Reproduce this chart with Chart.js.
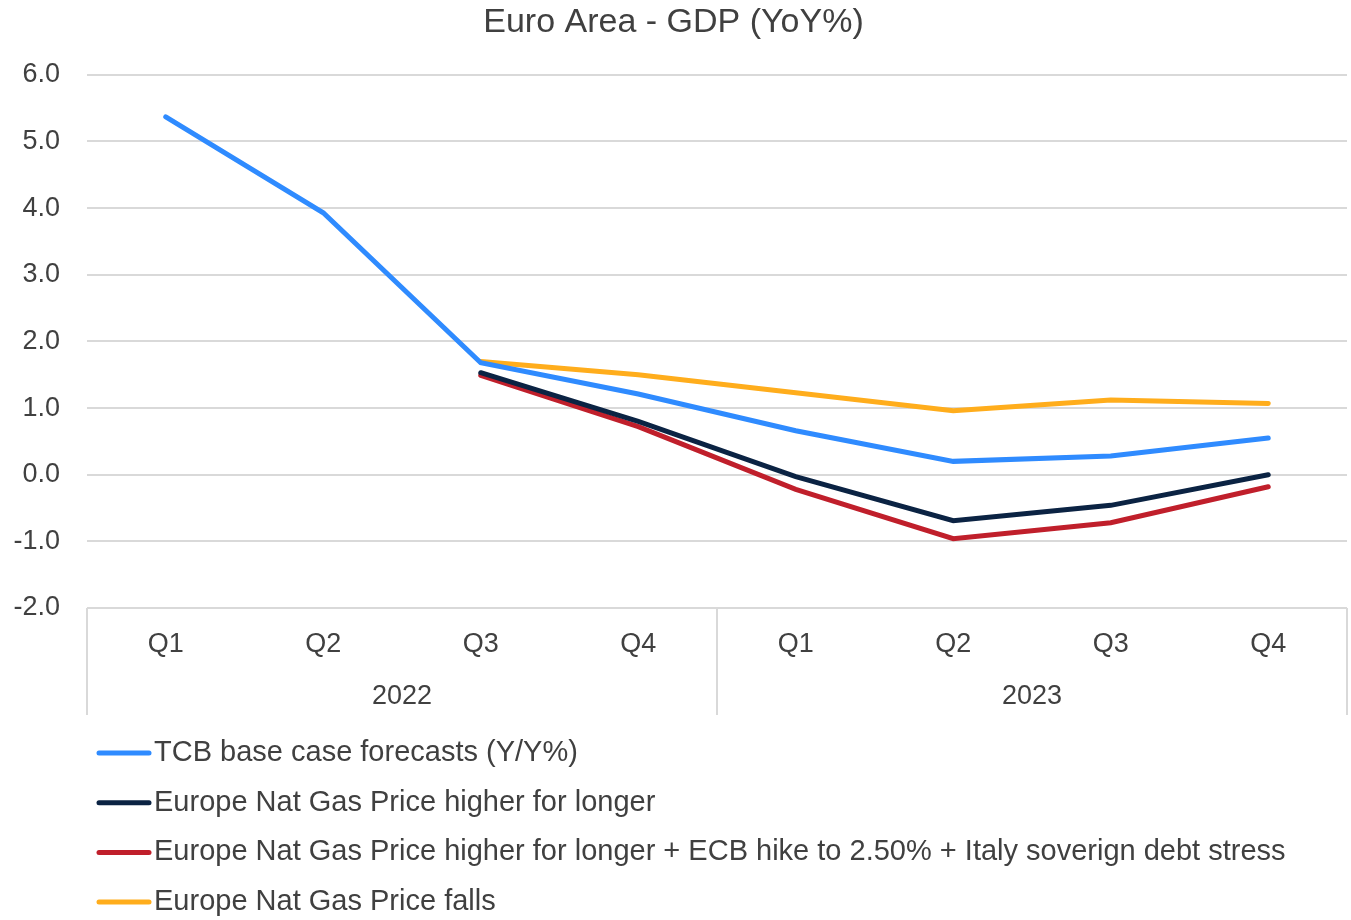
<!DOCTYPE html>
<html>
<head>
<meta charset="utf-8">
<script src="https://cdn.jsdelivr.net/npm/chart.js@4"></script>
<style>
  body { margin: 0; background: #fff; }
  #wrap { width: 1351px; height: 920px; }
</style>
</head>
<body>
<div id="wrap"><canvas id="line-chart"></canvas></div>
<script>
const quarters = ["Q1", "Q2", "Q3", "Q4", "Q1", "Q2", "Q3", "Q4"];
const years = ["2022", "2023"];

const tcbBase = [5.37, 3.93, 1.68, 1.21, 0.66, 0.2, 0.28, 0.55];
const gasHigher = [null, null, 1.53, 0.8, -0.03, -0.69, -0.46, 0.0];
const gasHigherEcb = [null, null, 1.49, 0.72, -0.22, -0.96, -0.72, -0.18];
const gasFalls = [null, null, 1.7, 1.5, 1.23, 0.96, 1.12, 1.07];

const yTicks = [-2, -1, 0, 1, 2, 3, 4, 5, 6];

const textColor = "#404040";
const fontFam = "'Liberation Sans', Arial, sans-serif";

// year row + separators under the quarter labels
const yearAxis = {
  id: "yearAxis",
  afterDraw(chart) {
    const ctx = chart.ctx,
      x = chart.scales.x,
      top = chart.chartArea.bottom,
      bottom = top + 107;
    const step = (x.right - x.left) / quarters.length;
    ctx.save();
    ctx.strokeStyle = "#d9d9d9";
    ctx.lineWidth = 2;
    for (let i = 0; i <= years.length; i++) {
      const px = Math.round(x.left + i * step * 4);
      ctx.beginPath();
      ctx.moveTo(px, top);
      ctx.lineTo(px, bottom);
      ctx.stroke();
    }
    ctx.fillStyle = textColor;
    ctx.font = "27px " + fontFam;
    ctx.textAlign = "center";
    ctx.textBaseline = "middle";
    years.forEach((y, i) => {
      ctx.fillText(y, x.left + (i * 4 + 2) * step, top + 89);
    });
    ctx.restore();
  },
};

// vertical legend at the bottom
const bottomLegend = {
  id: "bottomLegend",
  afterDraw(chart) {
    const ctx = chart.ctx;
    ctx.save();
    ctx.font = "29px " + fontFam;
    ctx.textBaseline = "middle";
    ctx.textAlign = "left";
    chart.data.datasets.forEach((ds, i) => {
      const y = 753 + i * 49.7;
      ctx.strokeStyle = ds.borderColor;
      ctx.lineWidth = 5;
      ctx.lineCap = "round";
      ctx.beginPath();
      ctx.moveTo(99, y);
      ctx.lineTo(149, y);
      ctx.stroke();
      ctx.fillStyle = textColor;
      ctx.fillText(ds.label, 154, y);
    });
    ctx.restore();
  },
};

const dati = {
  labels: quarters,
  datasets: [
    { label: "TCB base case forecasts (Y/Y%)", data: tcbBase, borderColor: "#2f8bff" },
    { label: "Europe Nat Gas Price higher for longer", data: gasHigher, borderColor: "#0b2343" },
    { label: "Europe Nat Gas Price higher for longer + ECB hike to 2.50% + Italy soverign debt stress", data: gasHigherEcb, borderColor: "#c01f2b" },
    { label: "Europe Nat Gas Price falls", data: gasFalls, borderColor: "#ffad1c" },
  ].map((d) => ({ ...d, borderWidth: 5, pointRadius: 0, tension: 0, fill: false, borderCapStyle: "round" })),
};

const config = {
  type: "line",
  data: dati,
  plugins: [yearAxis, bottomLegend],
  options: {
    responsive: false,
    animation: false,
    layout: { padding: { left: 0, right: 4, top: 0, bottom: 205 } },
    plugins: {
      legend: { display: false },
      tooltip: { enabled: false },
      title: {
        display: true,
        text: "Euro Area - GDP (YoY%)",
        color: textColor,
        font: { family: fontFam, size: 34, weight: "normal" },
        padding: { top: 2, bottom: 32 },
      },
    },
    scales: {
      x: {
        offset: true,
        grid: { display: false, drawTicks: false },
        border: { display: false },
        ticks: { color: textColor, font: { family: fontFam, size: 27 }, padding: 20, maxRotation: 0 },
        afterFit(scale) { scale.height = 107; },
      },
      y: {
        min: -2,
        max: 6,
        afterBuildTicks(scale) { scale.ticks = yTicks.map((v) => ({ value: v })); },
        grid: { color: "#d9d9d9", lineWidth: 2, drawTicks: false },
        border: { display: false },
        ticks: {
          color: textColor,
          font: { family: fontFam, size: 27 },
          padding: 27,
          callback: (v) => Number(v).toFixed(1),
        },
        afterFit(scale) { scale.width = 87; },
      },
    },
  },
};

const canvas = document.getElementById("line-chart");
canvas.width = 1351;
canvas.height = 920;
new Chart(canvas.getContext("2d"), config);
</script>
</body>
</html>
